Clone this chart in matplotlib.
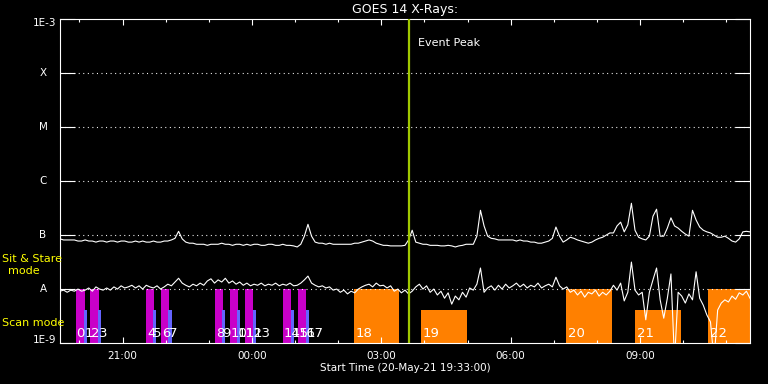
import numpy as np
import pandas as pd
import matplotlib
matplotlib.use('Agg')
import matplotlib.pyplot as plt
import matplotlib.dates as mdates
from matplotlib.ticker import NullLocator

# time range of the plot
start = pd.Timestamp('2021-05-20 19:33')
end = pd.Timestamp('2021-05-21 11:33')
peak_time = pd.Timestamp('2021-05-21 03:38')
step_min = 5  # sampling of the read-off curves

long_log = [
    -7.07, -7.09, -7.09, -7.09, -7.09,
    -7.11, -7.11, -7.09, -7.11, -7.11, -7.13, -7.11, -7.11, -7.13, -7.11,
    -7.11, -7.13, -7.11, -7.11, -7.13, -7.13, -7.11, -7.13, -7.11, -7.13,
    -7.13, -7.11, -7.13, -7.13, -7.11, -7.11, -7.09,
    -7.06, -6.93, -7.07, -7.13,
    -7.15, -7.15, -7.17, -7.17, -7.17, -7.19, -7.17, -7.17, -7.17, -7.15,
    -7.17, -7.17, -7.19, -7.17, -7.17, -7.19, -7.17, -7.19, -7.17, -7.17,
    -7.19, -7.19, -7.17, -7.17, -7.19, -7.19, -7.17, -7.19, -7.19,
    -7.20, -7.22, -7.17, -7.02, -6.80, -7.02, -7.13, -7.15, -7.15, -7.17, -7.15, -7.17, -7.17,
    -7.17, -7.17, -7.17, -7.17, -7.15, -7.15, -7.13, -7.11, -7.09, -7.11,
    -7.15, -7.17, -7.19, -7.19, -7.20, -7.20, -7.20, -7.20, -7.19,
    -7.09, -6.91, -7.13,
    -7.15, -7.17, -7.17, -7.19, -7.19, -7.19, -7.20, -7.20, -7.19, -7.20, -7.22, -7.20,
    -7.19, -7.17, -7.17, -7.17, -7.02, -6.54, -6.83, -7.02, -7.06, -7.07,
    -7.09, -7.09, -7.09, -7.09, -7.09, -7.11,
    -7.09, -7.11, -7.11, -7.13, -7.13, -7.15, -7.15, -7.13, -7.11, -7.06,
    -6.85, -7.02, -7.13, -7.09, -7.04, -7.06, -7.09, -7.11, -7.13, -7.15,
    -7.13, -7.09, -7.06, -7.04, -7.00, -6.96, -6.96, -6.83, -6.76, -6.94,
    -6.81, -6.41, -6.91,
    -7.04, -7.07, -7.09, -7.02, -6.65, -6.52, -7.02, -7.02, -6.87, -6.68,
    -6.83, -6.87, -6.93, -6.98, -7.02, -6.54, -6.72, -6.85, -6.91, -6.94,
    -6.96, -7.00, -7.04, -7.04, -7.02, -7.06, -7.11, -7.13, -7.07, -6.94,
    -6.93, -6.94,
]
short_log = [
    -8.04, -8.02, -8.06, -8.02, -8.04, -8.00, -8.04, -8.02, -7.98, -8.04, -7.96,
    -8.00, -8.02, -7.98, -8.02, -7.96, -8.00, -7.94, -7.98, -7.96, -7.93,
    -7.98, -7.94, -8.00, -7.93, -7.96, -7.98, -7.94, -8.00, -7.96, -7.91, -7.94,
    -7.87, -7.80, -7.89, -7.93, -7.96, -7.91, -7.94, -7.89, -7.93,
    -7.85, -7.81, -7.89, -7.83, -7.87, -7.80, -7.89, -7.85, -7.91, -7.87,
    -7.93, -7.89, -7.94, -7.91, -7.93, -7.89, -7.94, -7.91, -7.93, -7.89,
    -7.94, -7.91, -7.93, -7.89, -7.94, -7.93, -7.89, -7.83, -7.76, -7.89,
    -7.93, -7.96, -7.94, -7.98, -7.96, -8.02, -8.00, -8.06, -8.02, -8.09,
    -8.04, -8.07, -8.00, -7.96, -7.93, -7.91, -7.96, -7.89, -7.94, -7.93,
    -7.98, -7.94, -8.04, -8.00, -8.07, -8.02, -8.09, -8.04, -7.96, -7.91,
    -8.00, -7.94, -8.06, -8.00, -8.11, -8.04, -8.17, -8.07, -8.28, -8.13,
    -8.20, -8.06, -8.15, -7.98, -8.02, -7.91, -7.61, -8.06, -7.98, -7.94,
    -8.02, -7.93, -8.00, -7.91, -7.98, -7.94, -7.89, -7.96, -7.91, -7.98,
    -7.93, -7.96, -7.89, -7.98, -7.94, -7.91, -7.96, -7.78, -7.94, -8.00,
    -7.96, -8.06, -8.02, -8.11, -8.04, -8.15, -8.06, -8.09, -8.02, -8.13,
    -8.06, -8.11, -8.04, -7.93, -8.02, -7.89, -8.22, -8.06, -7.50, -8.02,
    -8.11, -8.06, -8.57, -8.06, -7.83, -7.61, -8.20, -8.54, -8.17, -7.72,
    -9.32, -8.06, -8.13, -8.26, -8.09, -8.20, -7.68, -8.17, -8.30, -8.48,
    -8.61, -9.32, -8.39, -8.26, -8.20, -8.24, -8.13, -8.19, -8.07, -8.11, -8.04, -8.17,
]

# observation windows
obs_labels = [str(i) for i in range(23)]
obs_start = ['2021-05-20 19:55', '2021-05-20 20:06', '2021-05-20 20:15', '2021-05-20 20:26',
             '2021-05-20 21:33', '2021-05-20 21:42', '2021-05-20 21:54', '2021-05-20 22:03',
             '2021-05-20 23:09', '2021-05-20 23:18', '2021-05-20 23:30', '2021-05-20 23:39',
             '2021-05-20 23:50', '2021-05-21 00:02', '2021-05-21 00:43', '2021-05-21 00:54',
             '2021-05-21 01:04', '2021-05-21 01:15', '2021-05-21 02:22', '2021-05-21 03:55',
             '2021-05-21 07:17', '2021-05-21 08:53', '2021-05-21 10:34']
obs_end = ['2021-05-20 20:08', '2021-05-20 20:11', '2021-05-20 20:27', '2021-05-20 20:30',
           '2021-05-20 21:44', '2021-05-20 21:47', '2021-05-20 22:05', '2021-05-20 22:09',
           '2021-05-20 23:20', '2021-05-20 23:23', '2021-05-20 23:41', '2021-05-20 23:43',
           '2021-05-21 00:02', '2021-05-21 00:06', '2021-05-21 00:54', '2021-05-21 00:59',
           '2021-05-21 01:15', '2021-05-21 01:19', '2021-05-21 03:24', '2021-05-21 04:59',
           '2021-05-21 08:21', '2021-05-21 09:57', '2021-05-21 11:37']
obs_mode = ['stare', 'scan'] * 9 + ['stare', 'scan', 'stare', 'scan', 'stare']
obs_group = ['a'] * 18 + ['b'] * 5

mode_top = {'stare': 1e-8, 'scan': 4.1e-9}
bar_colors = {('a', 'stare'): '#c800c8', ('a', 'scan'): '#6464ff',
              ('b', 'stare'): '#ff8000', ('b', 'scan'): '#ff8000'}

levels = [1e-9, 1e-8, 1e-7, 1e-6, 1e-5, 1e-4, 1e-3]
level_names = ['1E-9', 'A', 'B', 'C', 'M', 'X', '1E-3']

W, H = 768, 384
fig = plt.figure(figsize=(W / 100, H / 100), dpi=100, facecolor='black')
ax = fig.add_axes([60 / W, 41 / H, 690 / W, 323.7 / H], facecolor='black')
ax.set_yscale('log')
ax.set_ylim(1e-9, 1e-3)
ax.set_xlim(start, end)

# observation bars and numbers
for lab, s, e, m, g in zip(obs_labels, obs_start, obs_end, obs_mode, obs_group):
    s = pd.Timestamp(s)
    e = pd.Timestamp(e)
    x0 = mdates.date2num(s)
    w = mdates.date2num(e) - x0
    ax.bar(x0, mode_top[m] - 1e-9, width=w, bottom=1e-9, align='edge',
           color=bar_colors[(g, m)], linewidth=0, zorder=1)
    dx = 1.5 if g == 'b' else 0.5
    ax.annotate(lab, xy=(x0, 0.0), xycoords=ax.get_xaxis_transform(),
                xytext=(dx, 2.5), textcoords='offset points',
                color='white', fontsize=9.5, ha='left', va='bottom', zorder=5)

# dotted class levels
for lv in levels[1:-1]:
    ax.axhline(lv, color='white', lw=0.8, ls=(0, (0.9, 3.2)), zorder=2)

# GOES curves
t_long = start + pd.to_timedelta(np.arange(len(long_log)) * step_min, unit='min')
t_short = start + pd.to_timedelta(np.arange(len(short_log)) * step_min, unit='min')
ax.plot(t_long, 10 ** np.array(long_log), color='white', lw=0.8, zorder=3)
ax.plot(t_short, 10 ** np.array(short_log), color='white', lw=0.8, zorder=3)

# event peak
ax.axvline(peak_time, color='#a0c800', lw=1.6, zorder=4)
ax.annotate('Event Peak', xy=(mdates.date2num(peak_time), 0.927),
            xycoords=ax.get_xaxis_transform(), xytext=(6.5, 0),
            textcoords='offset points', color='white', fontsize=8,
            ha='left', va='center')

# axes styling
for sp in ax.spines.values():
    sp.set_color('white')
    sp.set_linewidth(0.8)
ax.set_yticks(levels)
ax.yaxis.set_minor_locator(NullLocator())
ax.set_yticklabels([])
ax.tick_params(axis='y', which='major', direction='in', length=10.8, width=0.8,
               color='white', left=True, right=True)
ax.xaxis.set_major_locator(mdates.HourLocator(byhour=range(0, 24, 3)))
ax.xaxis.set_minor_locator(mdates.HourLocator())
ax.xaxis.set_major_formatter(mdates.DateFormatter('%H:%M'))
ax.tick_params(axis='x', which='major', direction='in', length=4.5, width=0.8,
               color='white', labelcolor='white', labelsize=7.5, pad=6,
               top=True, bottom=True)
ax.tick_params(axis='x', which='minor', direction='in', length=2.3, width=0.8,
               color='white', top=True, bottom=True)

# y labels
ytr = ax.get_yaxis_transform()
for lv, name in zip(levels, level_names):
    if name.startswith('1E'):
        dy = -2.5 if name == '1E-3' else 2.5
        ax.annotate(name, xy=(0, lv), xycoords=ytr, xytext=(-2.5, dy),
                    textcoords='offset points', color='white', fontsize=7.5,
                    ha='right', va='center', annotation_clip=False)
    else:
        ax.annotate(name, xy=(0, lv), xycoords=ytr, xytext=(-12.2, 0),
                    textcoords='offset points', color='white', fontsize=7.5,
                    ha='center', va='center', annotation_clip=False)

# mode labels
fig.text(2 / W, 1 - 259 / H, 'Sit & Stare', color='yellow', fontsize=8, ha='left', va='center')
fig.text(24 / W, 1 - 271 / H, 'mode', color='yellow', fontsize=8, ha='center', va='center')
fig.text(2 / W, 1 - 323 / H, 'Scan mode', color='yellow', fontsize=8, ha='left', va='center')

fig.text(405 / W, 1 - 10 / H, 'GOES 14 X-Rays:', color='white', fontsize=9,
         ha='center', va='center')
fig.text(405 / W, 1 - 368 / H, 'Start Time (20-May-21 19:33:00)', color='white',
         fontsize=7.5, ha='center', va='center')

fig.savefig('out.png', dpi=100, facecolor='black')
